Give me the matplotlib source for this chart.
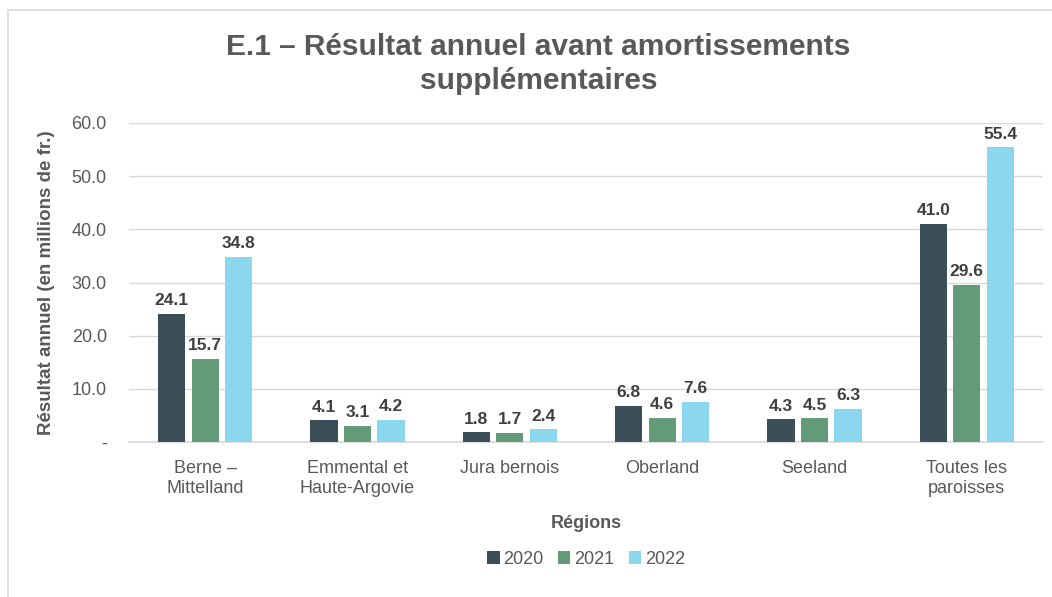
import matplotlib.pyplot as plt
import numpy as np
from matplotlib.patches import Rectangle

plt.rcParams['font.family'] = ['Liberation Sans', 'DejaVu Sans']

regions = ["Berne –\nMittelland", "Emmental et\nHaute-Argovie", "Jura bernois",
           "Oberland", "Seeland", "Toutes les\nparoisses"]
years = ["2020", "2021", "2022"]
values_2020 = [24.1, 4.1, 1.8, 6.8, 4.3, 41.0]
values_2021 = [15.7, 3.1, 1.7, 4.6, 4.5, 29.6]
values_2022 = [34.8, 4.2, 2.4, 7.6, 6.3, 55.4]
y_ticks = [0, 10, 20, 30, 40, 50, 60]
y_tick_labels = ["-", "10.0", "20.0", "30.0", "40.0", "50.0", "60.0"]

colors = ["#3B4F58", "#639A78", "#8AD7EE"]
grey = "#595959"

fig = plt.figure(figsize=(10.52, 5.97), dpi=100)
ax = fig.add_axes([0.1226, 0.2596, 0.8688, 0.5344])

# chart frame (only left/top visible in the original crop)
fig.add_artist(Rectangle((8 / 1052, -0.1), 1.2, 1 - 10 / 597 + 0.1, transform=fig.transFigure,
                         fill=False, edgecolor="#D9D9D9", linewidth=1.2))

x = np.arange(len(regions))
width = 0.178
step = 0.22
for i, (vals, year) in enumerate(zip([values_2020, values_2021, values_2022], years)):
    bars = ax.bar(x + (i - 1) * step, vals, width, color=colors[i], label=year, zorder=3)
    ax.bar_label(bars, labels=["%.1f" % v for v in vals], padding=4,
                 fontsize=12.5, fontweight="bold", color="#404040")

ax.set_xlim(-0.5, len(regions) - 0.5)
ax.set_ylim(0, 60)
ax.set_yticks(y_ticks)
ax.set_yticklabels(y_tick_labels)
ax.set_xticks(x)
ax.set_xticklabels(regions, linespacing=1.25)
ax.tick_params(axis="both", length=0, labelsize=13, labelcolor=grey)
ax.tick_params(axis="x", pad=13)
ax.tick_params(axis="y", pad=16)
ax.grid(axis="y", color="#D9D9D9", linewidth=1, zorder=0)
for s in ["top", "right", "left"]:
    ax.spines[s].set_visible(False)
ax.spines["bottom"].set_color("#D9D9D9")
ax.spines["bottom"].set_linewidth(1.2)

ax.set_ylabel("Résultat annuel (en millions de fr.)", fontsize=13.5, fontweight="bold",
              color=grey, labelpad=12)
ax.set_xlabel("Régions", fontsize=13, fontweight="bold", color=grey, labelpad=13)

fig.text(0.512, 0.893, "E.1 – Résultat annuel avant amortissements\nsupplémentaires",
         ha="center", va="center", fontsize=21.5, fontweight="bold", color=grey,
         linespacing=1.25)

ax.legend(loc="center", bbox_to_anchor=(0.5, -0.367), ncol=3, frameon=False,
          fontsize=13, labelcolor=grey, handlelength=0.7, handleheight=0.7,
          handletextpad=0.2, columnspacing=0.8)

fig.savefig("out.png", dpi=100)
